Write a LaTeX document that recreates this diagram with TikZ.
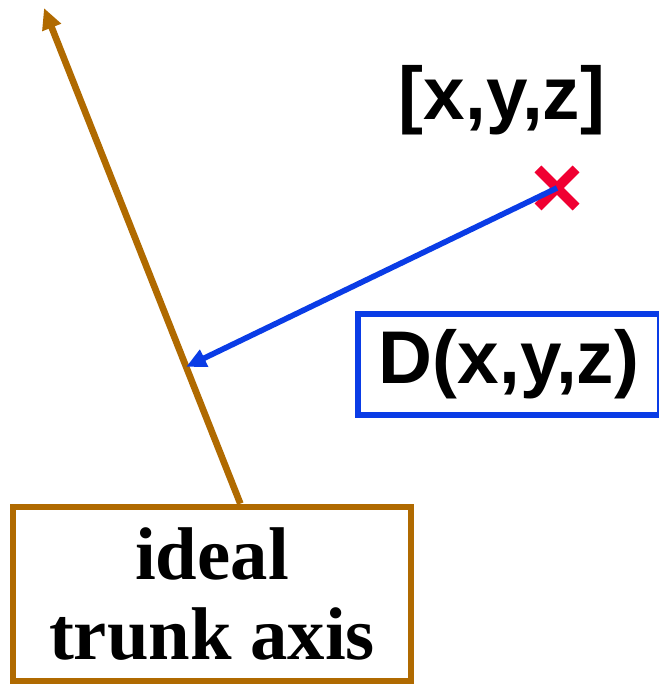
\documentclass[tikz,border=0pt]{standalone}
\usepackage{fontspec}
\setmainfont{Liberation Serif}
\setsansfont{Liberation Sans}
\usepackage{tikz}
\usetikzlibrary{arrows.meta,calc}
\usetikzlibrary{positioning}
\definecolor{trunk}{RGB}{176,106,0}
\definecolor{dblue}{RGB}{10,60,230}
\definecolor{ptred}{RGB}{240,0,50}
\tikzset{lab/.style={font=\sffamily\bfseries\fontsize{42.5}{46}\selectfont,inner sep=0pt}}

\begin{document}
\begin{tikzpicture}[>=Triangle,line join=miter]
\useasboundingbox (0,0) rectangle (13.16,13.74);
% --- box at the foot of the axis
\node[draw=trunk,line width=3.8pt,minimum width=7.96cm,minimum height=3.48cm,align=center,
  font=\rmfamily\bfseries\fontsize{42.5}{46}\selectfont] (axisbox) at (4.24,1.86) {ideal\\trunk axis};
\coordinate (base) at ($(axisbox.north west)!0.57!(axisbox.north east)$);
\coordinate (tip) at (0.88,13.58);
\draw[trunk,line width=3.8pt,-{Triangle[length=0.42cm,width=0.38cm]}] (base) -- (tip);
% --- point and its distance
\coordinate (pt) at (11.14,9.98);
\draw[ptred,line width=5.5pt] ($(pt)+(-0.38,0.38)$) -- ($(pt)+(0.38,-0.38)$) ($(pt)+(-0.38,-0.38)$) -- ($(pt)+(0.38,0.38)$);
\node[lab] (ptlabel) at (10.04,11.74) {[x,y,z]};
\coordinate (foot) at ($(base)!0.276!(tip)$);
\draw[dblue,line width=3.2pt,-{Triangle[length=0.4cm,width=0.36cm]}] (pt) -- (foot);
\node[lab,draw=dblue,line width=3.2pt,minimum width=6.04cm,minimum height=2.02cm] (dbox) at (10.18,6.45) {D(x,y,z)};
\end{tikzpicture}
\end{document}
